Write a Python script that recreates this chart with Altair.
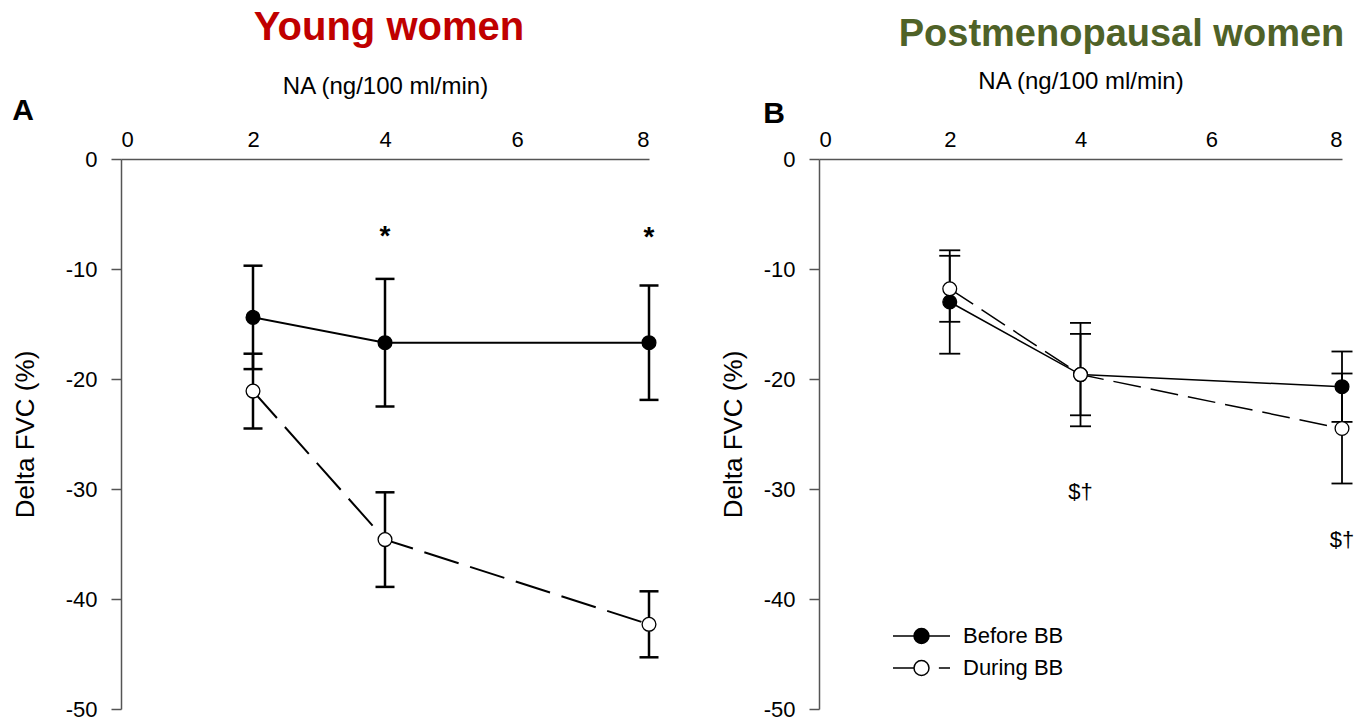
import altair as alt
import pandas as pd

# NA infusion rates (ng/100 ml/min)
na_dose = [2, 4, 8]
series_names = ["Before BB", "During BB"]
series_fill = ["black", "white"]
series_stroke = ["black", "black"]

# Young women: change in FVC (%) with SEM
young_before = [-14.4, -16.7, -16.7]
young_before_err = [4.7, 5.8, 5.2]
young_during = [-21.1, -34.6, -42.3]
young_during_err = [3.4, 4.3, 3.0]

# Postmenopausal women: change in FVC (%) with SEM
post_before = [-13.0, -19.6, -20.7]
post_before_err = [4.7, 4.7, 3.2]
post_during = [-11.8, -19.6, -24.5]
post_during_err = [3.0, 3.7, 5.0]

# significance markers
young_note_x = [4, 8]
young_note_y = [-6.5, -6.6]
young_note_text = ["*", "*"]
post_note_x = [4, 8]
post_note_y = [-30.3, -34.6]
post_note_text = ["$\u2020", "$\u2020"]

x_ticks = [0, 2, 4, 6, 8]
y_ticks = [0, -10, -20, -30, -40, -50]

FONT = "Liberation Sans"

# legend glyphs: line stubs with a circle in the middle
R = 0.263
CIRCLE = f"M{R},0A{R},{R},0,1,1,-{R},0A{R},{R},0,1,1,{R},0Z"
PATH_BEFORE = "M-1,0L1,0" + CIRCLE
PATH_DURING = f"M-1,0L-{R},0M0.61,0L1,0" + CIRCLE

# plain hyphen for negative tick labels
HYPHEN_LABEL = "datum.value < 0 ? '-' + abs(datum.value) : '' + datum.value"


def table(before, before_err, during, during_err):
    rows = []
    for name, vals, errs in ((series_names[0], before, before_err),
                             (series_names[1], during, during_err)):
        for x, v, e in zip(na_dose, vals, errs):
            rows.append({"na": x, "fvc": v, "lo": v - e, "hi": v + e, "series": name})
    return pd.DataFrame(rows)


def x_enc(title_pad):
    return alt.X(
        "na:Q",
        scale=alt.Scale(domain=[0, 8], nice=False, zero=False),
        axis=alt.Axis(orient="top", values=x_ticks, labelExpr=HYPHEN_LABEL,
                      title="NA (ng/100 ml/min)", ticks=False, labelPadding=8,
                      titlePadding=title_pad, grid=False, titleFontSize=24, labelFontSize=22),
    )


def y_enc(field, title_pad):
    return alt.Y(
        field,
        scale=alt.Scale(domain=[-50, 0], nice=False),
        axis=alt.Axis(values=y_ticks, labelExpr=HYPHEN_LABEL, title="Delta FVC (%)",
                      tickSize=10, labelPadding=14, titlePadding=title_pad, grid=False,
                      titleFontSize=26, labelFontSize=22),
    )


def panel(df, note_x, note_y, note_text, note_size, note_bold, note_dy, dash, line_w, err_w,
          cap_w, title_text, title_color, title_size, title_dx, title_dy, letter, letter_xy,
          x_title_pad, y_title_pad, with_legend, width):
    def X():
        return x_enc(x_title_pad)

    def Y(field):
        return y_enc(field, y_title_pad)

    base = alt.Chart(df)
    layers = []
    for name in series_names:
        kw = dict(color="black", strokeWidth=line_w)
        if name == "During BB":
            kw["strokeDash"] = dash
        layers.append(
            base.transform_filter(alt.datum.series == name)
            .mark_line(**kw)
            .encode(x=X(), y=Y("fvc:Q"))
        )
    layers.append(
        base.mark_rule(color="black", strokeWidth=err_w)
        .encode(x=X(), y=Y("lo:Q"), y2="hi:Q")
    )
    layers.append(
        base.transform_fold(["lo", "hi"], as_=["end", "bound"])
        .mark_tick(orient="horizontal", size=cap_w, thickness=err_w, color="black", opacity=1)
        .encode(x=X(), y=Y("bound:Q"))
    )
    for name, fill in zip(series_names, series_fill):
        layers.append(
            base.transform_filter(alt.datum.series == name)
            .mark_point(shape="circle", filled=True, size=190, fill=fill, stroke="black",
                        strokeWidth=1.3, opacity=1)
            .encode(x=X(), y=Y("fvc:Q"))
        )
    if with_legend:
        # legend-only layer: no rows pass the filter, the scales carry the entries
        legend = alt.Legend(
            orient="none", legendX=73, legendY=461, title=None, direction="vertical",
            symbolSize=3249, symbolStrokeWidth=1.5,
            symbolOpacity=1, labelFont=FONT, labelFontSize=22, labelColor="black",
            labelOffset=12, clipHeight=32, rowPadding=0, padding=0,
        )
        layers.append(
            base.transform_filter("false")
            .mark_point(filled=True, strokeWidth=1.5, opacity=1)
            .encode(
                x=X(),
                y=Y("fvc:Q"),
                fill=alt.Fill("series:N",
                              scale=alt.Scale(domain=series_names, range=series_fill),
                              legend=legend),
                stroke=alt.Stroke("series:N",
                                  scale=alt.Scale(domain=series_names, range=series_stroke),
                                  legend=legend),
                shape=alt.Shape("series:N",
                                scale=alt.Scale(domain=series_names,
                                                range=[PATH_BEFORE, PATH_DURING]),
                                legend=legend),
            )
        )
    notes = pd.DataFrame({"na": note_x, "fvc": note_y, "txt": note_text})
    layers.append(
        alt.Chart(notes)
        .mark_text(font=FONT, fontSize=note_size, fontWeight="bold" if note_bold else "normal",
                   color="black", dy=note_dy)
        .encode(x=X(), y=Y("fvc:Q"), text="txt:N")
    )
    layers.append(
        alt.Chart(pd.DataFrame({"txt": [letter]}))
        .mark_text(font=FONT, fontSize=30, fontWeight="bold", color="black")
        .encode(x=alt.value(letter_xy[0]), y=alt.value(letter_xy[1]), text="txt:N")
    )
    return alt.layer(*layers).properties(
        width=width,
        height=550,
        title=alt.Title(title_text, color=title_color, fontSize=title_size, font=FONT,
                        fontWeight="bold", anchor="middle", frame="group", dx=title_dx,
                        dy=title_dy, offset=26),
    )


panel_a = panel(table(young_before, young_before_err, young_during, young_during_err),
                young_note_x, young_note_y, young_note_text, 28, True, 6, [36, 12], 2, 2.5, 19,
                "Young women", "#C00000", 40, 4, 0, "A", (-98, -48), 30, 27, False, 528)
panel_b = panel(table(post_before, post_before_err, post_during, post_during_err),
                post_note_x, post_note_y, post_note_text, 22, False, 0, [28, 10], 1.5, 1.8, 21,
                "Postmenopausal women", "#4F6228", 38, 41, 11, "B", (-45, -45), 35, 17, True,
                523)

chart = (
    alt.hconcat(panel_a, panel_b, spacing=170, bounds="flush")
    .resolve_scale(fill="independent", shape="independent", stroke="independent")
    .resolve_legend(fill="independent", shape="independent", stroke="independent")
    .properties(padding={"left": 12, "top": 8, "right": 5, "bottom": 5}, background="white")
    .configure_axis(domainColor="#555555", domainWidth=1.5, tickColor="#555555", tickWidth=1.5,
                    labelFont=FONT, labelColor="black", titleFont=FONT, titleColor="black",
                    titleFontWeight="normal")
    .configure_view(stroke=None)
)

chart.save("out.html", embed_options={"renderer": "svg", "actions": False})
